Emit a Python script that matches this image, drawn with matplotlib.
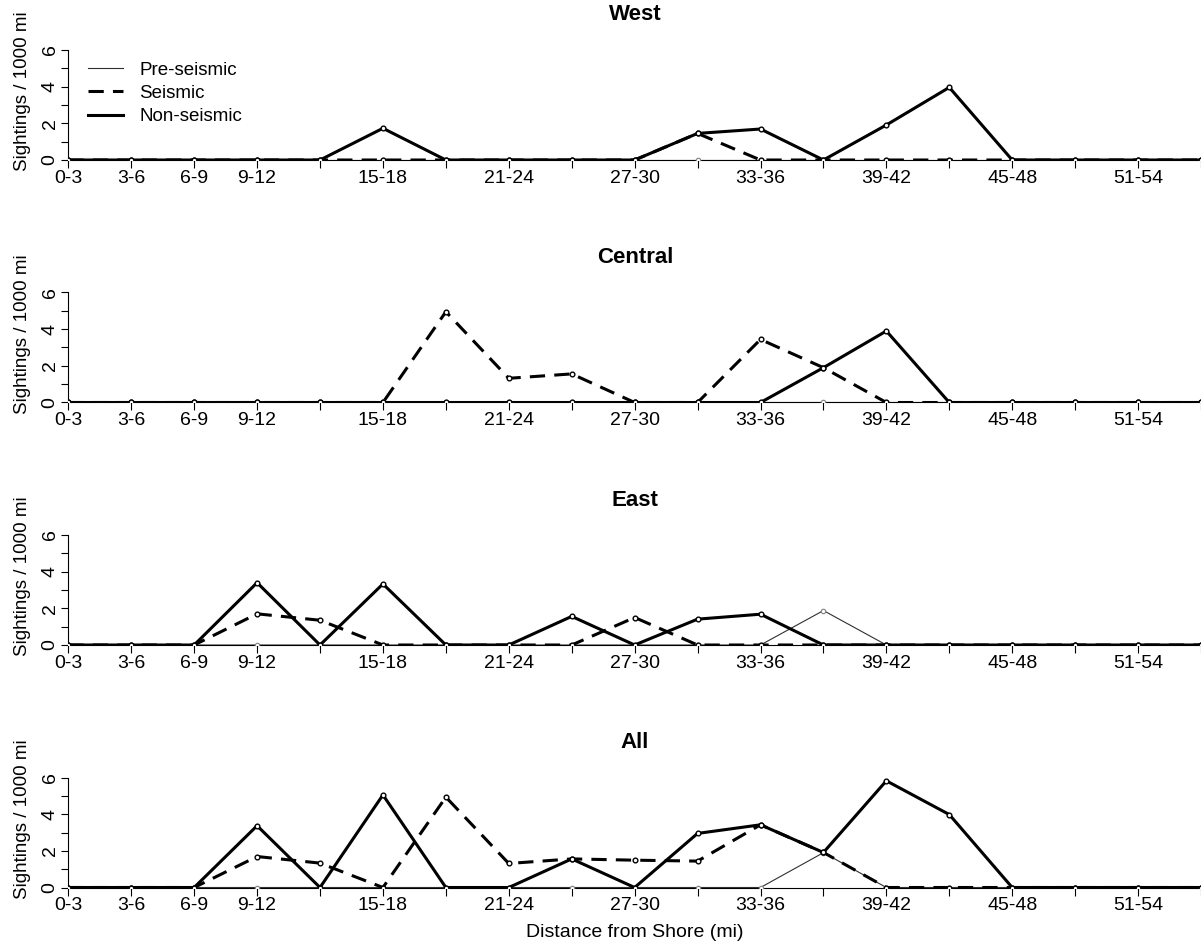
import matplotlib
matplotlib.use("Agg")
import matplotlib.pyplot as plt
import numpy as np

plt.rcParams["font.family"] = ["Liberation Sans", "DejaVu Sans"]

# distance bins (3 mi each)
categories = ["0-3", "3-6", "6-9", "9-12", "12-15", "15-18", "18-21", "21-24",
              "24-27", "27-30", "30-33", "33-36", "36-39", "39-42", "42-45",
              "45-48", "48-51", "51-54", "54-57"]
shown_labels = ["0-3", "3-6", "6-9", "9-12", "15-18", "21-24", "27-30",
                "33-36", "39-42", "45-48", "51-54"]

# sightings / 1000 mi
west_pre = [0, 0, 0, 0, 0, 0, 0, 0, 0, 0, 0, 0, 0, 0, 0, 0, 0, 0, 0]
west_seis = [0, 0, 0, 0, 0, 0, 0, 0, 0, 0, 1.45, 0, 0, 0, 0, 0, 0, 0, 0]
west_non = [0, 0, 0, 0, 0, 1.73, 0, 0, 0, 0, 1.45, 1.69, 0, 1.91, 3.96, 0, 0, 0, 0]

central_pre = [0, 0, 0, 0, 0, 0, 0, 0, 0, 0, 0, 0, 0, 0, 0, 0, 0, 0, 0]
central_seis = [0, 0, 0, 0, 0, 0, 4.95, 1.32, 1.56, 0, 0, 3.44, 1.90, 0, 0, 0, 0, 0, 0]
central_non = [0, 0, 0, 0, 0, 0, 0, 0, 0, 0, 0, 0, 1.90, 3.90, 0, 0, 0, 0, 0]

east_pre = [0, 0, 0, 0, 0, 0, 0, 0, 0, 0, 0, 0, 1.88, 0, 0, 0, 0, 0, 0]
east_seis = [0, 0, 0, 1.70, 1.35, 0, 0, 0, 0, 1.50, 0, 0, 0, 0, 0, 0, 0, 0, 0]
east_non = [0, 0, 0, 3.40, 0, 3.33, 0, 0, 1.56, 0, 1.41, 1.68, 0, 0, 0, 0, 0, 0, 0]

all_pre = [0, 0, 0, 0, 0, 0, 0, 0, 0, 0, 0, 0, 1.90, 0, 0, 0, 0, 0, 0]
all_seis = [0, 0, 0, 1.69, 1.33, 0, 4.93, 1.31, 1.56, 1.49, 1.44, 3.42, 1.91, 0, 0, 0, 0, 0, 0]
all_non = [0, 0, 0, 3.37, 0, 5.05, 0, 0, 1.56, 0, 2.95, 3.42, 1.91, 5.82, 3.98, 0, 0, 0, 0]

panels = [
    ("West", west_pre, west_seis, west_non),
    ("Central", central_pre, central_seis, central_non),
    ("East", east_pre, east_seis, east_non),
    ("All", all_pre, all_seis, all_non),
]

W, H = 1201, 947
fig = plt.figure(figsize=(W / 100, H / 100), dpi=100)

x0_px = 68.3      # pixel of first category
step_px = 63.05   # pixels per category
x = np.arange(len(categories))
tick_labels = [c if c in shown_labels else "" for c in categories]

for k, (name, pre, seis, non) in enumerate(panels):
    y0 = 160 + 242.5 * k   # pixel row of y=0
    y6 = 50 + 242.5 * k    # pixel row of y=6
    ax = fig.add_axes([x0_px / W, 1 - y0 / H, (W - x0_px) / W, (y0 - y6) / H])

    ax.plot(x, pre, color="#303030", lw=0.8, marker="o", ms=3.2,
            mfc="white", mec="#808080", mew=0.8, label="Pre-seismic", zorder=3)
    ax.plot(x, seis, color="black", lw=2.2, linestyle=(0, (5, 3)),
            marker="o", ms=3.4, mfc="white", mec="black", mew=1.0,
            label="Seismic", zorder=4)
    ax.plot(x, non, color="black", lw=2.2, marker="o", ms=3.4,
            mfc="white", mec="black", mew=1.0, label="Non-seismic", zorder=5)

    ax.set_xlim(0, (W - x0_px) / step_px)
    ax.set_ylim(0, 6)
    ax.set_xticks(x)
    ax.set_xticklabels(tick_labels)
    ax.set_yticks(range(7))
    ax.set_yticklabels(["0", "", "2", "", "4", "", "6"], rotation=90, va="center")
    ax.tick_params(axis="x", length=6, width=0.8, pad=1, labelsize=14)
    ax.tick_params(axis="y", length=5, width=0.8, pad=2, labelsize=14)
    for s in ["top", "right"]:
        ax.spines[s].set_visible(False)
    ax.spines["left"].set_linewidth(0.8)
    ax.spines["bottom"].set_linewidth(0.8)
    ax.patch.set_alpha(0)

    fig.text(635 / W, 1 - (15 + 242.5 * k) / H, name, ha="center", va="center",
             fontsize=16, fontweight="bold")
    fig.text(23 / W, 1 - (91.5 + 242.5 * k) / H, "Sightings / 1000 mi",
             rotation=90, ha="center", va="center", fontsize=13.5)

    if k == 0:
        ax.legend(loc="upper left",
                  bbox_to_anchor=((80 - x0_px) / (W - x0_px), 1.0 - 4 / 110),
                  frameon=False, fontsize=13.5, handlelength=1.9,
                  handletextpad=0.85, labelspacing=0.33, borderaxespad=0.0,
                  markerscale=0)

fig.text(635 / W, 1 - 932 / H, "Distance from Shore (mi)", ha="center",
         va="center", fontsize=14)

fig.savefig("out.png", dpi=100)
